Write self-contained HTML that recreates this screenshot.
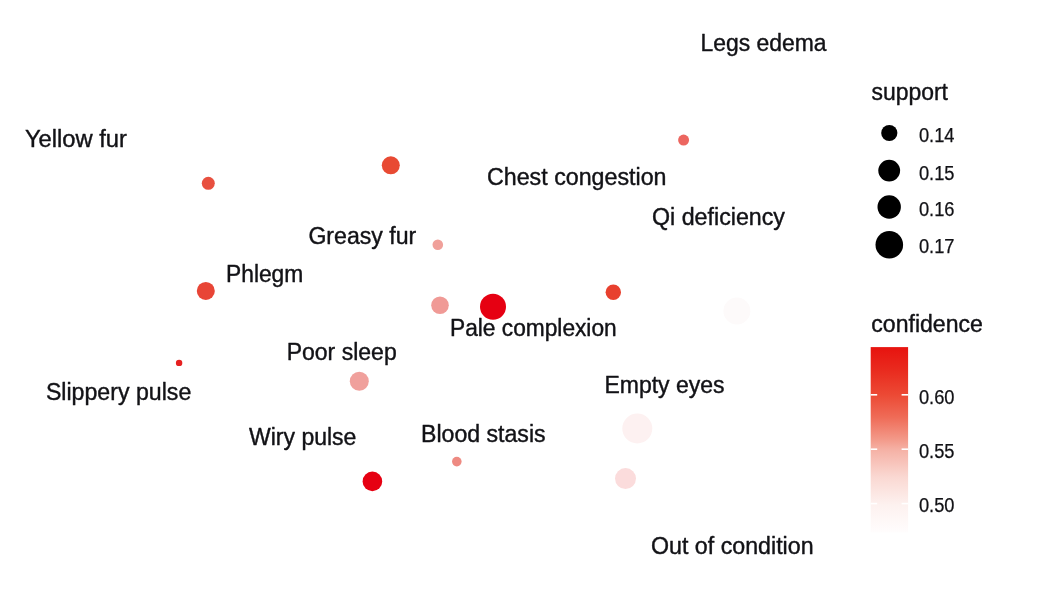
<!DOCTYPE html>
<html>
<head>
<meta charset="utf-8">
<title>Bubble chart</title>
<style>
html,body{margin:0;padding:0;background:#fff;}
body{width:1039px;height:599px;overflow:hidden;}
svg{display:block;filter:blur(0.45px);}
text{font-family:"Liberation Sans",sans-serif;fill:#121216;stroke:#121216;stroke-linejoin:round;}
.lab{font-size:23.3px;stroke-width:0.4px;}
.leg{font-size:19.4px;stroke-width:0.25px;fill:#1c1c22;stroke:#1c1c22;}
</style>
</head>
<body>
<svg width="1039" height="599" viewBox="0 0 1039 599">
<defs>
<linearGradient id="cb" x1="0" y1="0" x2="0" y2="1">
<stop offset="0" stop-color="#e7130f"/>
<stop offset="0.13" stop-color="#e92c1f"/>
<stop offset="0.26" stop-color="#ec4a35"/>
<stop offset="0.38" stop-color="#ef6c58"/>
<stop offset="0.50" stop-color="#f39a8a"/>
<stop offset="0.55" stop-color="#f5b0a4"/>
<stop offset="0.70" stop-color="#fad8d2"/>
<stop offset="0.85" stop-color="#fdf1ef"/>
<stop offset="1" stop-color="#fffdfd"/>
</linearGradient>
</defs>
<rect width="1039" height="599" fill="#ffffff"/>

<!-- bubbles -->
<g>
<circle cx="208.3" cy="183.3" r="6.5" fill="#e8503f"/>
<circle cx="390.8" cy="165.3" r="9" fill="#e84a33"/>
<circle cx="205.8" cy="290.9" r="9" fill="#e84536"/>
<circle cx="179.1" cy="362.9" r="3.2" fill="#e62020"/>
<circle cx="437.8" cy="244.8" r="5.3" fill="#f0a09a"/>
<circle cx="440" cy="305.3" r="8.8" fill="#f09a96"/>
<circle cx="493" cy="306.7" r="13" fill="#e60012"/>
<circle cx="613.3" cy="292.3" r="7.7" fill="#e8402e"/>
<circle cx="736.9" cy="311" r="13.5" fill="#fdfafa"/>
<circle cx="683.6" cy="140.1" r="5.5" fill="#ec6660"/>
<circle cx="359.3" cy="381.2" r="9.5" fill="#f0a09c"/>
<circle cx="372.4" cy="481.4" r="9.8" fill="#e60012"/>
<circle cx="456.8" cy="461.6" r="4.8" fill="#ee8a82"/>
<circle cx="637.3" cy="428.5" r="15" fill="#fdf1f1"/>
<circle cx="625.5" cy="478.6" r="10.5" fill="#fbdcdc"/>
</g>

<!-- labels -->
<g class="lab">
<text x="24.9" y="147" textLength="102" lengthAdjust="spacingAndGlyphs">Yellow fur</text>
<text x="700.6" y="50.5" textLength="126" lengthAdjust="spacingAndGlyphs">Legs edema</text>
<text x="487" y="185" textLength="179.5" lengthAdjust="spacingAndGlyphs">Chest congestion</text>
<text x="652" y="225" textLength="133" lengthAdjust="spacingAndGlyphs">Qi deficiency</text>
<text x="308.4" y="244.4" textLength="107.9" lengthAdjust="spacingAndGlyphs">Greasy fur</text>
<text x="226" y="282" textLength="77.3" lengthAdjust="spacingAndGlyphs">Phlegm</text>
<text x="450" y="336.3" textLength="166.7" lengthAdjust="spacingAndGlyphs">Pale complexion</text>
<text x="286.7" y="360" textLength="110" lengthAdjust="spacingAndGlyphs">Poor sleep</text>
<text x="45.9" y="399.7" textLength="145.4" lengthAdjust="spacingAndGlyphs">Slippery pulse</text>
<text x="604.4" y="393" textLength="120.2" lengthAdjust="spacingAndGlyphs">Empty eyes</text>
<text x="249" y="445" textLength="107.4" lengthAdjust="spacingAndGlyphs">Wiry pulse</text>
<text x="421" y="441.6" textLength="124.6" lengthAdjust="spacingAndGlyphs">Blood stasis</text>
<text x="651" y="553.8" textLength="162.6" lengthAdjust="spacingAndGlyphs">Out of condition</text>
<text x="871.5" y="100.2" textLength="76.5" lengthAdjust="spacingAndGlyphs">support</text>
<text x="871.3" y="332" textLength="111.6" lengthAdjust="spacingAndGlyphs">confidence</text>
</g>

<!-- support legend -->
<g>
<circle cx="889.3" cy="133" r="8.1" fill="#000"/>
<circle cx="889.2" cy="170.6" r="10.9" fill="#000"/>
<circle cx="889.2" cy="207" r="11.7" fill="#000"/>
<circle cx="889.3" cy="244.8" r="13.8" fill="#000"/>
</g>
<g class="leg">
<text x="918.9" y="142.3" textLength="35.6" lengthAdjust="spacingAndGlyphs">0.14</text>
<text x="918.9" y="179.9" textLength="35.6" lengthAdjust="spacingAndGlyphs">0.15</text>
<text x="918.9" y="216.4" textLength="35.6" lengthAdjust="spacingAndGlyphs">0.16</text>
<text x="918.9" y="253.2" textLength="35.6" lengthAdjust="spacingAndGlyphs">0.17</text>
<text x="918.9" y="403.6" textLength="35.6" lengthAdjust="spacingAndGlyphs">0.60</text>
<text x="918.9" y="458" textLength="35.6" lengthAdjust="spacingAndGlyphs">0.55</text>
<text x="918.9" y="512.4" textLength="35.6" lengthAdjust="spacingAndGlyphs">0.50</text>
</g>

<!-- colorbar -->
<rect x="870.7" y="347.1" width="37.4" height="185.5" fill="url(#cb)"/>
<g stroke="#ffffff" stroke-width="1.6">
<line x1="870.7" y1="394.8" x2="877.2" y2="394.8"/>
<line x1="901.6" y1="394.8" x2="908.1" y2="394.8"/>
<line x1="870.7" y1="449.2" x2="877.2" y2="449.2"/>
<line x1="901.6" y1="449.2" x2="908.1" y2="449.2"/>
<line x1="870.7" y1="503.6" x2="877.2" y2="503.6"/>
<line x1="901.6" y1="503.6" x2="908.1" y2="503.6"/>
</g>
</svg>
</body>
</html>
